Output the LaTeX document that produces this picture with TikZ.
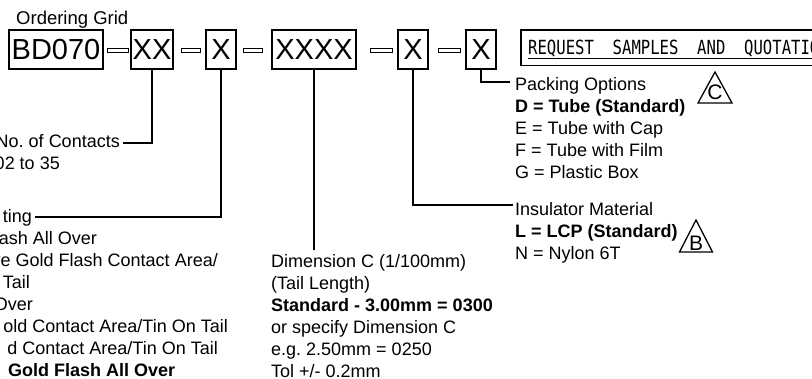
\documentclass[tikz,border=0pt]{standalone}
\usepackage{fontspec}
\setmainfont{Liberation Sans}
\newfontfamily\monofont{DejaVu Sans Mono}
\usepackage{graphicx}
\frenchspacing
\tikzset{
  pbox/.style={draw, line width=1.7pt, minimum height=39pt, inner sep=0pt, font=\fontsize{29}{29}\selectfont},
  sepbar/.style={draw, line width=1pt, minimum height=4pt, inner sep=0pt},
  lbl/.style={inner sep=0pt, font=\fontsize{18}{22}\selectfont},
  lead/.style={line width=1.6pt},
  tri/.style={inner sep=0pt, font=\fontsize{21}{21}\selectfont},
  trishape/.style={line width=1.3pt}
}
\begin{document}
\begin{tikzpicture}[x=1pt,y=-1pt]
\useasboundingbox (0,0) rectangle (812,378);
\clip (0,0) rectangle (812,378);
% title
\node[lbl, anchor=base west, font=\fontsize{18.5}{22}\selectfont] (title) at (16,24) {Ordering Grid};
% part number grid
\node[pbox, minimum width=94pt] (bd) at (56,49.5) {BD070};
\node[sepbar, minimum width=21pt] (s1) at (117.5,50) {};
\node[pbox, minimum width=42pt] (xx) at (152,49.5) {XX};
\node[sepbar, minimum width=19pt] (s2) at (190.5,50) {};
\node[pbox, minimum width=30pt] (xa) at (221,49.5) {X};
\node[sepbar, minimum width=19pt] (s3) at (252.5,50) {};
\node[pbox, minimum width=84pt] (xc) at (314,49.5) {XXXX};
\node[sepbar, minimum width=22pt] (s4) at (381,50) {};
\node[pbox, minimum width=30pt] (xb) at (413,49.5) {X};
\node[sepbar, minimum width=22pt] (s5) at (449,50) {};
\node[pbox, minimum width=30pt] (xp) at (481,49.5) {X};
% request box
\node[draw, line width=1.5pt, minimum width=330pt, minimum height=35.5pt, anchor=north west, inner sep=0pt] (req) at (520,29) {};
\node[inner sep=0pt, anchor=base west] (reqtxt) at (528,54) {\scalebox{0.8}[1]{\fontsize{19.5}{19.5}\monofont REQUEST\ \ SAMPLES\ \ AND\ \ QUOTATION}};
\draw[line width=1.1pt] (528,58.5) -- (830,58.5);
% connectors
\coordinate (ncE) at (123,143);
\coordinate (plE) at (35,217);
\coordinate (dimE) at (314,250);
\coordinate (insE) at (513,205);
\coordinate (pkE) at (510,82);
\draw[lead] (xx.south) |- (ncE);
\draw[lead] (xa.south) |- (plE);
\draw[lead] (xc.south) -- (dimE);
\draw[lead] (xb.south) |- (insE);
\draw[lead] (xp.south) |- (pkE);
% left column (cut at the left edge, as in the reference)
\node[lbl, anchor=base east] (nc1) at (120,147) {No. of Contacts};
\node[lbl, anchor=base east] (nc2) at (60,169) {02 to 35};
\node[lbl, anchor=base east] (pl1) at (32,222) {ting};
\node[lbl, anchor=base east] (pl2) at (97,244) {ash All Over};
\node[lbl, anchor=base east] (pl3) at (218,266) {ve Gold Flash Contact Area/};
\node[lbl, anchor=base east] (pl4) at (30,288) {Tail};
\node[lbl, anchor=base east] (pl5) at (33,310) {Over};
\node[lbl, anchor=base east] (pl6) at (228,332) {old Contact Area/Tin On Tail};
\node[lbl, anchor=base east] (pl7) at (218,354) {d Contact Area/Tin On Tail};
\node[lbl, anchor=base west] (pl8) at (8,376) {\textbf{Gold Flash All Over}};
% dimension C
\node[lbl, anchor=base west] (dc1) at (271,267) {Dimension C (1/100mm)};
\node[lbl, anchor=base west] (dc2) at (271,289) {(Tail Length)};
\node[lbl, anchor=base west] (dc3) at (271,311) {\textbf{Standard - 3.00mm = 0300}};
\node[lbl, anchor=base west] (dc4) at (271,333) {or specify Dimension C};
\node[lbl, anchor=base west] (dc5) at (271,355) {e.g. 2.50mm = 0250};
\node[lbl, anchor=base west] (dc6) at (271,377) {Tol +/- 0.2mm};
% packing options
\node[lbl, anchor=base west] (pk1) at (515,90) {Packing Options};
\node[lbl, anchor=base west] (pk2) at (515,112) {\textbf{D = Tube (Standard)}};
\node[lbl, anchor=base west] (pk3) at (515,134) {E = Tube with Cap};
\node[lbl, anchor=base west] (pk4) at (515,156) {F = Tube with Film};
\node[lbl, anchor=base west] (pk5) at (515,178) {G = Plastic Box};
% insulator material
\node[lbl, anchor=base west] (in1) at (515,215) {Insulator Material};
\node[lbl, anchor=base west] (in2) at (515,237) {\textbf{L = LCP (Standard)}};
\node[lbl, anchor=base west] (in3) at (515,259) {N = Nylon 6T};
% revision triangles
\node[tri] (tc) at (715,92) {C};
\draw[trishape] (715,72) -- (732,103) -- (698,103) -- cycle;
\node[tri] (tb) at (696,243) {B};
\draw[trishape] (696,220) -- (712.5,252) -- (679.5,252) -- cycle;
\end{tikzpicture}
\end{document}
